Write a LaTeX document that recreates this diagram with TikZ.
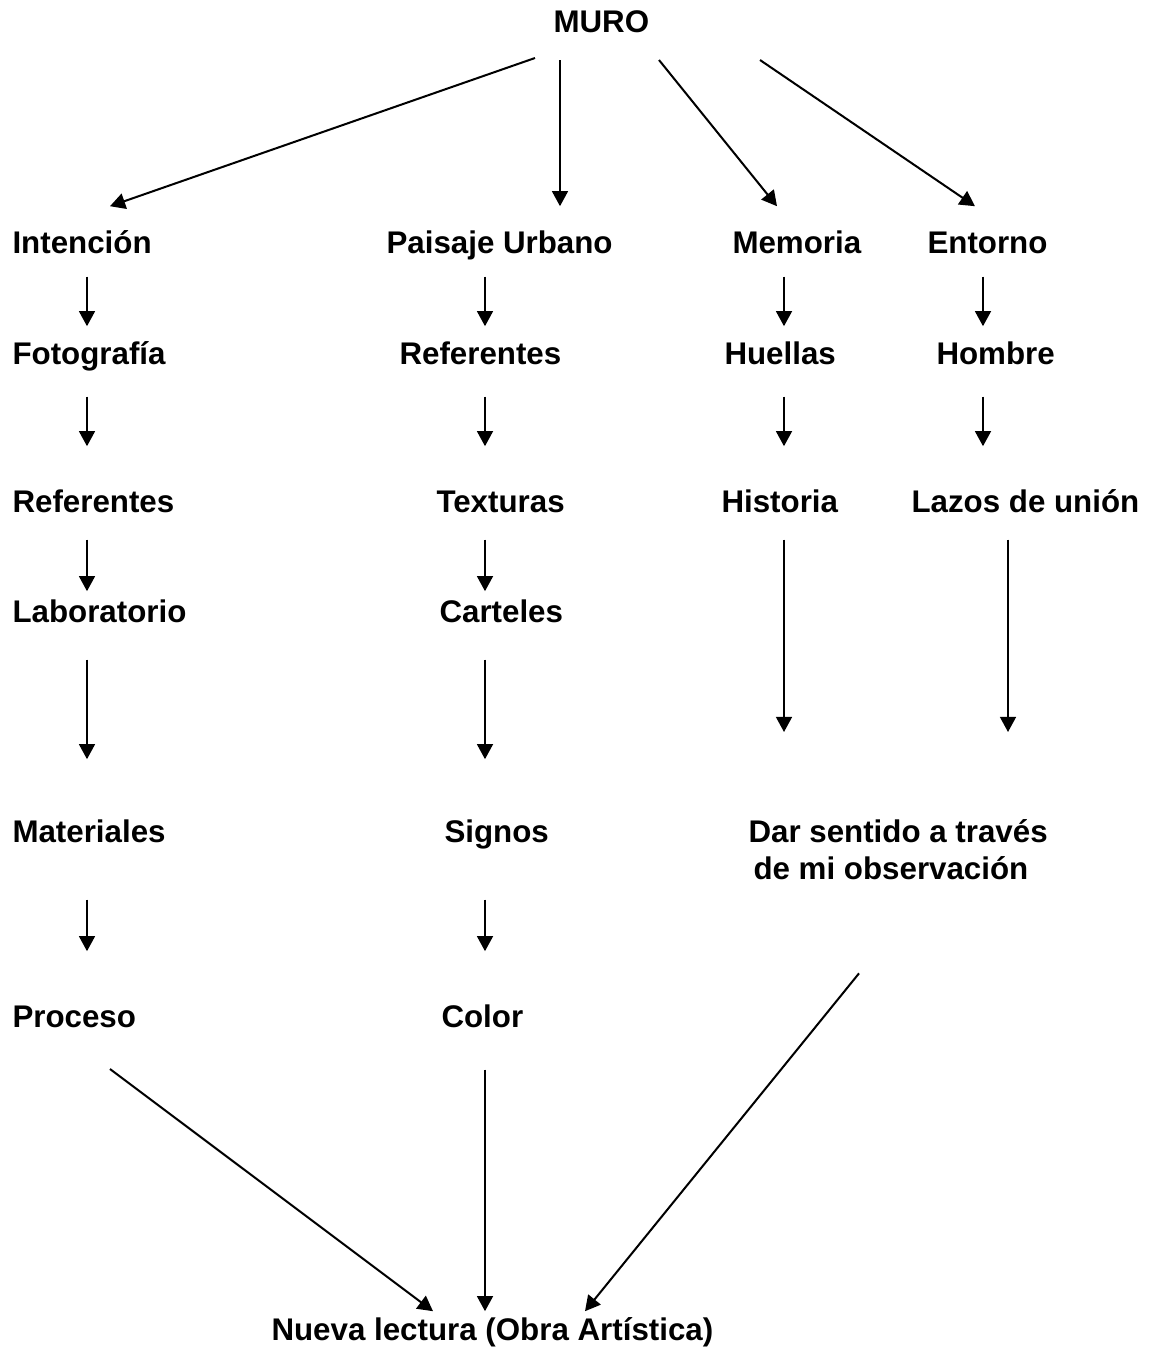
\documentclass[tikz,border=0pt]{standalone}
\usepackage{fontspec}
\setmainfont{Liberation Sans}
\usepackage{tikz}
\usetikzlibrary{arrows.meta}

\newdimen\pxu \pxu=0.3834pt

\begin{document}
\begin{tikzpicture}[x=\pxu, y=-\pxu,
    lbl/.style={font=\fontsize{12}{14.2}\selectfont\bfseries, inner sep=0pt,
        anchor=base west, text height=0.72em, text depth=0pt},
    arr/.style={-{Triangle[width=6.1pt, length=5.8pt]}, line width=0.77pt}]

    \useasboundingbox (0,0) rectangle (1155,1365);

    % columnas de flechas
    \coordinate (c1) at (87,0);
    \coordinate (c2) at (485,0);
    \coordinate (c3) at (784,0);
    \coordinate (c4) at (983,0);
    \coordinate (c5) at (1008,0);

    % 1. Titulo
    \node[lbl] (muro) at (553,32) {MURO};

    % 2. Primera fila
    \node[lbl] (intencion) at (12,253) {Intención};
    \node[lbl] (paisaje) at (386,253) {Paisaje Urbano};
    \node[lbl] (memoria) at (732,253) {Memoria};
    \node[lbl] (entorno) at (927,253) {Entorno};

    % 3. Filas siguientes
    \node[lbl] (fotografia) at (12,364) {Fotografía};
    \node[lbl] (referentesB) at (399,364) {Referentes};
    \node[lbl] (huellas) at (724,364) {Huellas};
    \node[lbl] (hombre) at (936,364) {Hombre};

    \node[lbl] (referentesA) at (12,512) {Referentes};
    \node[lbl] (texturas) at (436,512) {Texturas};
    \node[lbl] (historia) at (721,512) {Historia};
    \node[lbl] (lazos) at (911,512) {Lazos de unión};

    \node[lbl] (laboratorio) at (12,622) {Laboratorio};
    \node[lbl] (carteles) at (439,622) {Carteles};

    \node[lbl] (materiales) at (12,842) {Materiales};
    \node[lbl] (signos) at (444,842) {Signos};
    \node[font=\fontsize{12}{14.2}\selectfont\bfseries, inner sep=0pt,
        anchor=north west, align=left] (dar) at (748,819)
        {Dar sentido a través\\\hspace{0.16em}de mi observación};

    \node[lbl] (proceso) at (12,1027) {Proceso};
    \node[lbl] (color) at (441,1027) {Color};

    \node[lbl] (nueva) at (271,1340) {Nueva lectura (Obra Artística)};

    % 4. Flechas desde MURO
    \draw[arr] ([shift={(-18,26)}]muro.base west) -- ([shift={(98,-27.5)}]intencion.north west);
    \draw[arr] ([shift={(7,28)}]muro.base west) -- ([shift={(174,-27.5)}]paisaje.north west);
    \draw[arr] ([shift={(106,28)}]muro.base west) -- ([shift={(45,-27.5)}]memoria.north west);
    \draw[arr] ([shift={(207,28)}]muro.base west) -- ([shift={(48,-27.5)}]entorno.north west);

    % 5. Columna izquierda
    \draw[arr, shorten <=23\pxu, shorten >=18.5\pxu] (intencion.south -| c1) -- (fotografia.north -| c1);
    \draw[arr, shorten <=32\pxu, shorten >=46.5\pxu] (fotografia.south -| c1) -- (referentesA.north -| c1);
    \draw[arr, shorten <=27\pxu, shorten >=11.5\pxu] (referentesA.south -| c1) -- (laboratorio.north -| c1);
    \draw[arr, shorten <=37\pxu, shorten >=63.5\pxu] (laboratorio.south -| c1) -- (materiales.north -| c1);
    \draw[arr, shorten <=57\pxu, shorten >=56.5\pxu] (materiales.south -| c1) -- (proceso.north -| c1);

    % 6. Columna central
    \draw[arr, shorten <=23\pxu, shorten >=18.5\pxu] (paisaje.south -| c2) -- (referentesB.north -| c2);
    \draw[arr, shorten <=32\pxu, shorten >=46.5\pxu] (referentesB.south -| c2) -- (texturas.north -| c2);
    \draw[arr, shorten <=27\pxu, shorten >=11.5\pxu] (texturas.south -| c2) -- (carteles.north -| c2);
    \draw[arr, shorten <=37\pxu, shorten >=63.5\pxu] (carteles.south -| c2) -- (signos.north -| c2);
    \draw[arr, shorten <=57\pxu, shorten >=56.5\pxu] (signos.south -| c2) -- (color.north -| c2);

    % 7. Columnas derechas
    \draw[arr, shorten <=23\pxu, shorten >=18.5\pxu] (memoria.south -| c3) -- (huellas.north -| c3);
    \draw[arr, shorten <=32\pxu, shorten >=46.5\pxu] (huellas.south -| c3) -- (historia.north -| c3);
    \draw[arr, shorten <=27\pxu, shorten >=87\pxu] (historia.south -| c3) -- (dar.north -| c3);
    \draw[arr, shorten <=23\pxu, shorten >=18.5\pxu] (entorno.south -| c4) -- (hombre.north -| c4);
    \draw[arr, shorten <=32\pxu, shorten >=46.5\pxu] (hombre.south -| c4) -- (lazos.north -| c4);
    \draw[arr, shorten <=27\pxu, shorten >=87\pxu] (lazos.south -| c5) -- (dar.north -| c5);

    % 8. Hacia la nueva lectura
    \draw[arr] ([shift={(98,42)}]proceso.base west) -- ([shift={(162,-9.5)}]nueva.north west);
    \draw[arr, shorten <=42\pxu, shorten >=9.5\pxu] (color.south -| c2) -- (nueva.north -| c2);
    \draw[arr] ([shift={(111,93)}]dar.south west) -- ([shift={(314,-9.5)}]nueva.north west);
\end{tikzpicture}
\end{document}
